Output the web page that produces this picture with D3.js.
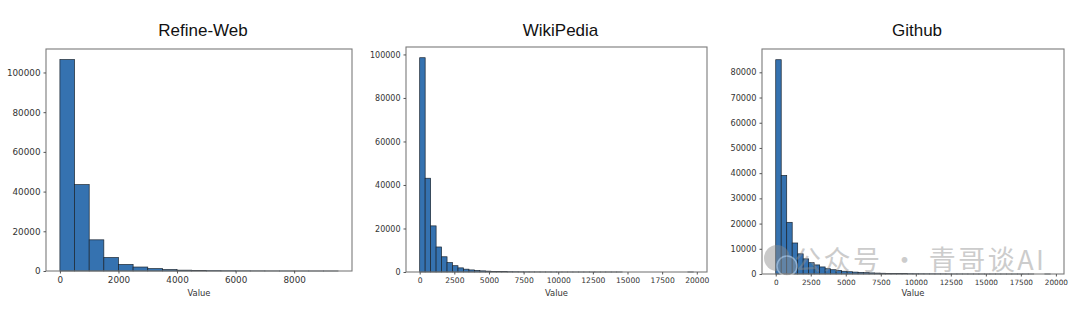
<!DOCTYPE html>
<html>
<head>
<meta charset="utf-8">
<script src="https://cdn.jsdelivr.net/npm/d3@7"></script>
<style>
  body { margin: 0; background: #fff; }
  .tick text { font-family: "DejaVu Sans", sans-serif; fill: #333; }
  .tick line { stroke: #555; }
  .domain { display: none; }
</style>
</head>
<body>
<script>
// chart data
var titles = ["Refine-Web", "WikiPedia", "Github"];

var refineBinWidth = 500;
var refineCounts = [106500, 43500, 15700, 6800, 3300, 2000, 1200, 700, 420, 260,
   170, 110, 75, 50, 30, 20, 12, 6, 3];
var refineXTicks = [0, 2000, 4000, 6000, 8000];
var refineYTicks = [0, 20000, 40000, 60000, 80000, 100000];

var wikiBinWidth = 395;
var wikiCounts = [98500, 43100, 21200, 11500, 7000, 4300, 2900, 1900, 1300, 950,
   700, 520, 400, 300, 220, 170, 130, 100, 75, 55,
   40, 30, 22, 16, 12, 9, 7, 5, 4, 3,
   2, 2, 1, 1, 1, 1, 1, 0, 0, 0,
   0, 0, 0, 0, 0, 0, 0, 0, 0, 1];
var wikiXTicks = [0, 2500, 5000, 7500, 10000, 12500, 15000, 17500, 20000];
var wikiYTicks = [0, 20000, 40000, 60000, 80000, 100000];

var githubBinWidth = 392;
var githubCounts = [85000, 39100, 20500, 12300, 8000, 6000, 4500, 3600, 2800, 2100,
   1700, 1400, 1100, 900, 750, 620, 520, 430, 360, 300,
   250, 210, 180, 150, 120, 100, 85, 70, 60, 50,
   40, 30, 25, 20, 15, 10, 8, 6, 5, 4,
   3, 2, 2, 1, 1, 1, 1, 0, 0, 1];
var githubXTicks = [0, 2500, 5000, 7500, 10000, 12500, 15000, 17500, 20000];
var githubYTicks = [0, 10000, 20000, 30000, 40000, 50000, 60000, 70000, 80000];

var watermark = "公众号 · 青哥谈AI";

var W = 1080, H = 311;

var svg = d3.select("body")
   .append("svg")
   .attr("width", W)
   .attr("height", H);

// frame of each panel in page pixels
var panels = [
   { title: titles[0], bw: refineBinWidth, counts: refineCounts, xt: refineXTicks, yt: refineYTicks,
     left: 46, right: 352, top: 49, bottom: 271, xfs: 8.8, yfs: 8.8 },
   { title: titles[1], bw: wikiBinWidth, counts: wikiCounts, xt: wikiXTicks, yt: wikiYTicks,
     left: 406, right: 707, top: 47, bottom: 272, xfs: 7.6, yfs: 8 },
   { title: titles[2], bw: githubBinWidth, counts: githubCounts, xt: githubXTicks, yt: githubYTicks,
     left: 762, right: 1064, top: 49, bottom: 274, xfs: 7.3, yfs: 8.2 }
];

panels.forEach(function(p) {
   var bins = p.counts.map(function(c, i) {
      return { x0: i * p.bw, x1: (i + 1) * p.bw, n: c };
   });
   var xmax = p.counts.length * p.bw;
   var ymax = d3.max(p.counts);

   // matplotlib style 5% margins
   var x = d3.scaleLinear()
      .domain([-0.05 * xmax, 1.05 * xmax])
      .range([p.left, p.right]);
   var y = d3.scaleLinear()
      .domain([0, ymax * 1.05])
      .range([p.bottom, p.top]);

   var g = svg.append("g");

   g.selectAll("rect.bar")
      .data(bins)
      .enter()
      .append("rect")
      .attr("class", "bar")
      .attr("x", function(d) { return x(d.x0); })
      .attr("width", function(d) { return x(d.x1) - x(d.x0); })
      .attr("y", function(d) { return y(d.n); })
      .attr("height", function(d) { return y(0) - y(d.n); })
      .attr("fill", "#3572b0")
      .attr("stroke", "#1b2530")
      .attr("stroke-width", 0.7);

   // frame
   g.append("rect")
      .attr("x", p.left)
      .attr("y", p.top)
      .attr("width", p.right - p.left)
      .attr("height", p.bottom - p.top)
      .attr("fill", "none")
      .attr("stroke", "#7a7a7a")
      .attr("stroke-width", 1.1);

   var xAxis = d3.axisBottom(x).tickValues(p.xt).tickSize(2.5).tickPadding(3)
      .tickFormat(d3.format("d"));
   var yAxis = d3.axisLeft(y).tickValues(p.yt).tickSize(2.5).tickPadding(3)
      .tickFormat(d3.format("d"));

   g.append("g")
      .attr("transform", "translate(0," + p.bottom + ")")
      .call(xAxis)
      .selectAll("text")
      .style("font-size", p.xfs + "px");

   g.append("g")
      .attr("transform", "translate(" + p.left + ",0)")
      .call(yAxis)
      .selectAll("text")
      .style("font-size", p.yfs + "px");

   g.append("text")
      .attr("x", (p.left + p.right) / 2)
      .attr("y", 296)
      .attr("text-anchor", "middle")
      .style("font-family", "DejaVu Sans, sans-serif")
      .style("font-size", "8.4px")
      .style("fill", "#333")
      .text("Value");

   g.append("text")
      .attr("x", (p.left + p.right) / 2 + 4)
      .attr("y", 36)
      .attr("text-anchor", "middle")
      .style("font-family", "Liberation Sans, Arial, sans-serif")
      .style("font-size", "17px")
      .style("fill", "#111")
      .text(p.title);
});

// watermark over the last panel
var wm = svg.append("g").attr("opacity", 0.45);
wm.append("circle").attr("cx", 777).attr("cy", 258).attr("r", 13).attr("fill", "#8a8a8a");
wm.append("circle").attr("cx", 787).attr("cy", 266).attr("r", 10).attr("fill", "#9a9a9a")
   .attr("stroke", "#fff").attr("stroke-width", 1.5);
wm.append("text")
   .attr("x", 794)
   .attr("y", 270)
   .attr("textLength", 250)
   .style("font-family", "Noto Sans CJK SC, sans-serif")
   .style("font-size", "27px")
   .style("fill", "#8f8f8f")
   .text(watermark);
</script>
</body>
</html>
